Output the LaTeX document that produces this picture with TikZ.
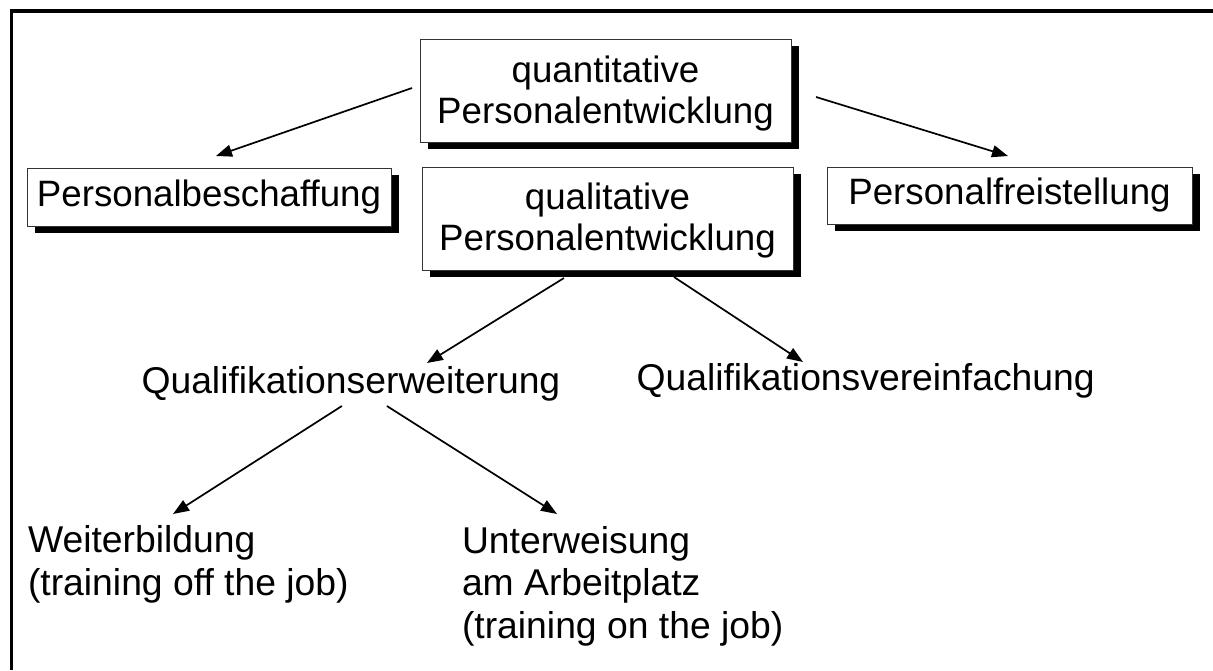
\documentclass[tikz,border=0pt]{standalone}
\usepackage{fontspec}
\setmainfont{Liberation Sans}
\usetikzlibrary{arrows.meta,shadows}
% invisible rule that gives the first line of a card extra height
\newcommand\cardstrut[1]{\rule{0pt}{#1}}
\begin{document}
\begin{tikzpicture}[x=1pt,y=-1pt,
  every node/.style={inner sep=0pt, outer sep=0pt},
  bigfont/.style={font=\fontsize{37.3}{42.5}\selectfont},
  boxfont/.style={font=\fontsize{36.7}{41}\selectfont},
  card/.style={boxfont, draw=black!80, line width=1pt, fill=white, align=center,
    general shadow={fill=black, shadow xshift=8pt, shadow yshift=-6.5pt}},
  freetext/.style={bigfont, align=left},
  link/.style={line width=1.7pt, -{Triangle[length=16pt,width=12pt]}}]
\useasboundingbox (0,0) rectangle (1213,670);
\fill[white] (0,0) rectangle (1213,670);
% frame: only the top and left rules
\draw[line width=3.5pt] (11.5,670) -- (11.5,11) -- (1213,11);

% boxed items
\node[card, minimum width=371pt, minimum height=103pt] (quant) at (605.5,90.5)
  {\cardstrut{33pt}quantitative\\Personalentwicklung};
\node[card, minimum width=371pt, minimum height=103pt] (qual) at (607.5,218.5)
  {\cardstrut{30pt}qualitative\\Personalentwicklung};
\node[card, minimum width=364pt, minimum height=58pt] (pb) at (209,197)
  {Personalbeschaffung};
\node[card, minimum width=365pt, minimum height=57pt] (pf) at (1009.5,195.5)
  {Personalfreistellung};

% free labels
\node[bigfont, anchor=base west] (erw) at (141.5,393) {Qualifikationserweiterung};
\node[bigfont, anchor=base west] (ver) at (636.5,390) {Qualifikationsvereinfachung};
\node[freetext, anchor=north west] (weiter) at (28,525.7)
  {Weiterbildung\\(training off the job)};
\node[freetext, anchor=north west] (unter) at (462,526.3)
  {Unterweisung\\am Arbeitplatz\\(training on the job)};

% connectors
\draw[link] ([shift={(-8,-2.5)}]quant.west) -- ([shift={(7,-12)}]pb.north);
\draw[link] ([shift={(25,6.5)}]quant.east) -- ([shift={(-1.5,-11)}]pf.north);
\draw[link] ([shift={(-43.5,8)}]qual.south) -- ([shift={(76,-30)}]erw.base);
\draw[link] ([shift={(66.5,7)}]qual.south) -- ([shift={(-62.6,-28)}]ver.base);
\draw[link] ([shift={(-9,13)}]erw.base) -- ([shift={(145,-11.7)}]weiter.north west);
\draw[link] ([shift={(36,13)}]erw.base) -- ([shift={(95,-12.3)}]unter.north west);
\end{tikzpicture}
\end{document}
